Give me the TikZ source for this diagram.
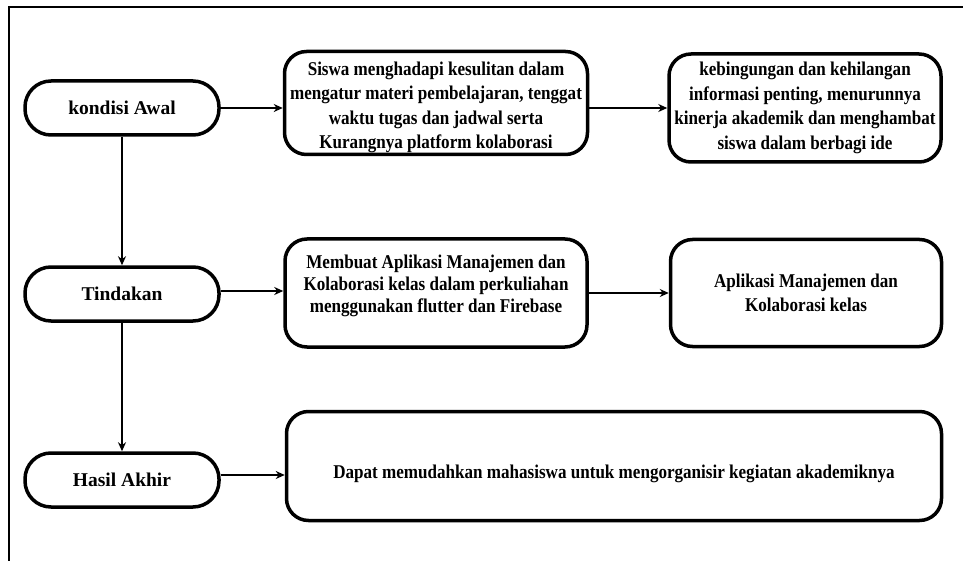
\documentclass[tikz,border=0pt]{standalone}
\usepackage{fontspec}
\setmainfont{Liberation Serif}
\newfontfamily\sempit[FakeStretch=0.875]{Liberation Serif}
\usetikzlibrary{arrows.meta}

\begin{document}
\begin{tikzpicture}[x=1pt, y=-1pt,
  tahap/.style={draw, line width=3.5pt, rounded corners=26pt, minimum width=194pt, minimum height=54pt, font=\fontsize{19.5}{24}\selectfont\bfseries},
  kotak/.style={draw, line width=3.5pt, rounded corners=22pt, align=center, inner sep=0pt, font=\fontsize{19.5}{24.5}\selectfont\sempit\bfseries},
  panah/.style={line width=1.6pt, -{Stealth[length=9pt, width=8pt]}}]

\useasboundingbox (0,0) rectangle (963,561);
\draw[line width=2.2pt] (9,561) -- (9,7) -- (963,7);

\node[tahap] (awal) at (122,108) {kondisi Awal};
\node[tahap] (tindakan) at (122,294) {Tindakan};
\node[tahap] (akhir) at (122,480) {Hasil Akhir};

\node[kotak, minimum width=303pt, minimum height=103pt, text height=96pt, text depth=4.3pt] (masalah) at (436,103) {Siswa menghadapi kesulitan dalam\\mengatur materi pembelajaran, tenggat\\waktu tugas dan jadwal serta\\Kurangnya platform kolaborasi};
\node[kotak, minimum width=272pt, minimum height=108pt] (dampak) at (805,108) {kebingungan dan kehilangan\\informasi penting, menurunnya\\kinerja akademik dan menghambat\\siswa dalam berbagi ide};
\node[kotak, minimum width=302pt, minimum height=108pt, font=\fontsize{19.5}{22}\selectfont\sempit\bfseries, text height=57.5pt, text depth=18.3pt] (solusi) at (436,293) {Membuat Aplikasi Manajemen dan\\Kolaborasi kelas dalam perkuliahan\\menggunakan flutter dan Firebase};
\node[kotak, minimum width=271pt, minimum height=107pt] (aplikasi) at (806,293) {Aplikasi Manajemen dan\\Kolaborasi kelas};
\node[kotak, minimum width=655pt, minimum height=109pt, text height=29pt, text depth=4pt] (manfaat) at (614,466) {Dapat memudahkan mahasiswa untuk mengorganisir kegiatan akademiknya};

\draw[panah] (awal.east) -- (awal.east -| masalah.west);
\draw[panah] (masalah.east |- dampak.west) -- (dampak.west);
\draw[panah] (awal) -- (tindakan);
\draw[panah] (tindakan) -- (akhir);
\draw[panah] ([yshift=3pt]tindakan.east) -- ([yshift=3pt]tindakan.east -| solusi.west);
\draw[panah] (solusi) -- (aplikasi);
\draw[panah] ([yshift=5pt]akhir.east) -- ([yshift=5pt]akhir.east -| manfaat.west);
\end{tikzpicture}
\end{document}
